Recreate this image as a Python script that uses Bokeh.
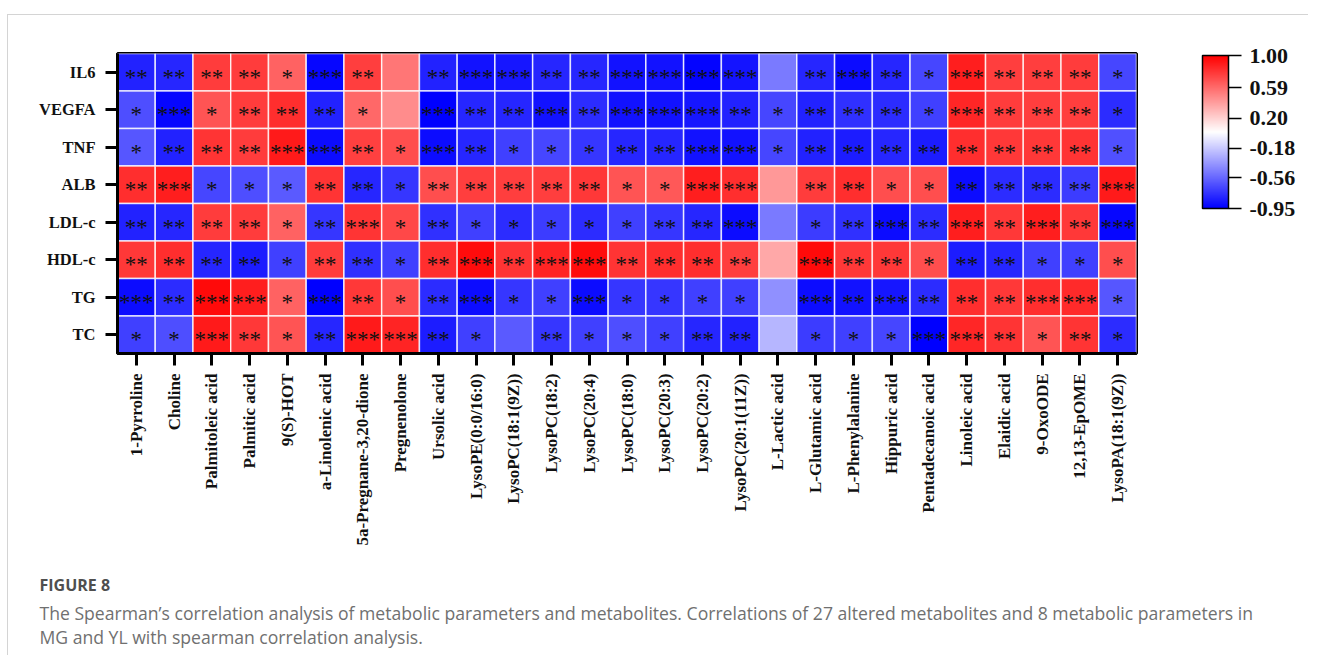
import numpy as np
from bokeh.plotting import figure
from bokeh.models import (ColumnDataSource, LinearColorMapper, ColorBar, FixedTicker,
                          PrintfTickFormatter, Title)
from bokeh.transform import transform
from bokeh.core.properties import value
from bokeh.embed import file_html
from bokeh.resources import INLINE

metabolites = ["1-Pyrroline", "Choline", "Palmitoleic acid", "Palmitic acid", "9(S)-HOT",
               "a-Linolenic acid", "5a-Pregnane-3,20-dione", "Pregnenolone", "Ursolic acid",
               "LysoPE(0:0/16:0)", "LysoPC(18:1(9Z))", "LysoPC(18:2)", "LysoPC(20:4)",
               "LysoPC(18:0)", "LysoPC(20:3)", "LysoPC(20:2)", "LysoPC(20:1(11Z))",
               "L-Lactic acid", "L-Glutamic acid", "L-Phenylalanine", "Hippuric acid",
               "Pentadecanoic acid", "Linoleic acid", "Elaidic acid", "9-OxoODE",
               "12,13-EpOME", "LysoPA(18:1(9Z))"]
parameters = ["IL6", "VEGFA", "TNF", "ALB", "LDL-c", "HDL-c", "TG", "TC"]

# Spearman correlation coefficients
il6 = [-0.82, -0.80, 0.77, 0.77, 0.62, -0.92, 0.76, 0.55, -0.82, -0.88, -0.86, -0.80, -0.80, -0.88,
       -0.88, -0.93, -0.87, -0.48, -0.80, -0.90, -0.80, -0.68, 0.88, 0.76, 0.76, 0.77, -0.68]
vegfa = [-0.65, -0.92, 0.68, 0.77, 0.82, -0.82, 0.60, 0.46, -0.95, -0.80, -0.80, -0.88, -0.78, -0.88,
         -0.88, -0.86, -0.82, -0.68, -0.82, -0.76, -0.78, -0.70, 0.85, 0.77, 0.76, 0.76, -0.78]
tnf = [-0.62, -0.82, 0.80, 0.77, 0.90, -0.90, 0.75, 0.70, -0.90, -0.80, -0.70, -0.68, -0.74, -0.80,
       -0.80, -0.88, -0.88, -0.68, -0.82, -0.84, -0.80, -0.84, 0.82, 0.78, 0.78, 0.80, -0.64]
alb = [0.82, 0.88, -0.68, -0.65, -0.60, 0.80, -0.80, -0.74, 0.70, 0.76, 0.76, 0.76, 0.78, 0.68,
       0.66, 0.88, 0.82, 0.42, 0.77, 0.82, 0.70, 0.70, -0.90, -0.78, -0.78, -0.72, 0.90]
ldl = [-0.82, -0.80, 0.77, 0.77, 0.62, -0.74, 0.80, 0.72, -0.76, -0.70, -0.78, -0.72, -0.78, -0.70,
       -0.74, -0.80, -0.90, -0.48, -0.72, -0.76, -0.90, -0.78, 0.88, 0.78, 0.88, 0.78, -0.92]
hdl = [0.78, 0.82, -0.80, -0.84, -0.70, 0.77, -0.76, -0.70, 0.82, 0.95, 0.80, 0.86, 0.95, 0.80,
       0.82, 0.82, 0.76, 0.36, 0.96, 0.78, 0.78, 0.70, -0.84, -0.80, -0.70, -0.70, 0.70]
tg = [-0.90, -0.78, 0.96, 0.88, 0.62, -0.95, 0.78, 0.70, -0.78, -0.90, -0.74, -0.70, -0.90, -0.74,
      -0.74, -0.70, -0.70, -0.40, -0.90, -0.88, -0.86, -0.78, 0.82, 0.78, 0.82, 0.84, -0.62]
tc = [-0.70, -0.65, 0.90, 0.78, 0.68, -0.80, 0.90, 0.86, -0.84, -0.70, -0.60, -0.74, -0.70, -0.65,
      -0.70, -0.80, -0.82, -0.25, -0.72, -0.70, -0.68, -0.95, 0.85, 0.80, 0.68, 0.80, -0.78]

# significance marks
il6_sig = ["**", "**", "**", "**", "*", "***", "**", "", "**", "***", "***", "**", "**", "***",
           "***", "***", "***", "", "**", "***", "**", "*", "***", "**", "**", "**", "*"]
vegfa_sig = ["*", "***", "*", "**", "**", "**", "*", "", "***", "**", "**", "***", "**", "***",
             "***", "***", "**", "*", "**", "**", "**", "*", "***", "**", "**", "**", "*"]
tnf_sig = ["*", "**", "**", "**", "***", "***", "**", "*", "***", "**", "*", "*", "*", "**",
           "**", "***", "***", "*", "**", "**", "**", "**", "**", "**", "**", "**", "*"]
alb_sig = ["**", "***", "*", "*", "*", "**", "**", "*", "**", "**", "**", "**", "**", "*",
           "*", "***", "***", "", "**", "**", "*", "*", "**", "**", "**", "**", "***"]
ldl_sig = ["**", "**", "**", "**", "*", "**", "***", "*", "**", "*", "*", "*", "*", "*",
           "**", "**", "***", "", "*", "**", "***", "**", "***", "**", "***", "**", "***"]
hdl_sig = ["**", "**", "**", "**", "*", "**", "**", "*", "**", "***", "**", "***", "***", "**",
           "**", "**", "**", "", "***", "**", "**", "*", "**", "**", "*", "*", "*"]
tg_sig = ["***", "**", "***", "***", "*", "***", "**", "*", "**", "***", "*", "*", "***", "*",
          "*", "*", "*", "", "***", "**", "***", "**", "**", "**", "***", "***", "*"]
tc_sig = ["*", "*", "***", "**", "*", "**", "***", "***", "**", "*", "", "**", "*", "*",
          "*", "**", "**", "", "*", "*", "*", "***", "***", "**", "*", "**", "*"]

cb_ticks = [-0.95, -0.56, -0.18, 0.20, 0.59, 1.00]

caption_head = "FIGURE 8"
caption_line1 = ("The Spearman\u2019s correlation analysis of metabolic parameters and metabolites. "
                 "Correlations of 27 altered metabolites and 8 metabolic parameters in")
caption_line2 = "MG and YL with spearman correlation analysis."

rows_vals = [il6, vegfa, tnf, alb, ldl, hdl, tg, tc]
rows_sig = [il6_sig, vegfa_sig, tnf_sig, alb_sig, ldl_sig, hdl_sig, tg_sig, tc_sig]

xs, ys, vals, sigs = [], [], [], []
for param, rv, rs in zip(parameters, rows_vals, rows_sig):
    for m, v, s in zip(metabolites, rv, rs):
        xs.append(m); ys.append(param); vals.append(v); sigs.append(s)
src = ColumnDataSource(dict(x=xs, y=ys, v=vals, s=sigs))

# blue -> white -> red palette
def _hex(r, g, b):
    return "#%02x%02x%02x" % (int(round(r)), int(round(g)), int(round(b)))
palette = []
n = 256
for i in range(n):
    t = i / (n - 1)
    if t < 0.5:
        k = t / 0.5
        palette.append(_hex(255 * k, 255 * k, 255))
    else:
        k = (t - 0.5) / 0.5
        palette.append(_hex(255, 255 * (1 - k), 255 * (1 - k)))
mapper = LinearColorMapper(palette=palette, low=-0.95, high=1.0)

p = figure(frame_width=1019, frame_height=300, x_range=metabolites,
           y_range=list(reversed(parameters)),
           output_backend="svg", toolbar_location=None,
           min_border_left=109, min_border_right=172, min_border_top=38, min_border_bottom=302,
           styles={"border-top": "1px solid #d4d4d4", "border-left": "1px solid #d4d4d4",
                   "margin-top": "14px", "margin-left": "7px"})
p.rect(x="x", y="y", width=1, height=1, source=src,
       fill_color=transform("v", mapper), line_color="white", line_alpha=0.8, line_width=1.5)
p.text(x="x", y="y", text="s", source=src, text_align="center", text_baseline="middle",
       y_offset=5, text_font=value("Liberation Serif"), text_font_size="23px",
       text_color="#111111")

p.grid.visible = False
p.outline_line_color = "black"
p.outline_line_width = 3
p.outline_line_alpha = 1

for ax in (p.xaxis[0], p.yaxis[0]):
    ax.axis_line_color = "black"
    ax.axis_line_width = 3
    ax.major_tick_line_color = "black"
    ax.major_tick_line_width = 3
    ax.major_tick_in = 0
    ax.major_tick_out = 12
    ax.minor_tick_line_color = None
    ax.major_label_text_font = "Liberation Serif"
    ax.major_label_text_font_style = "bold"
    ax.major_label_text_color = "#111111"
p.yaxis.major_label_text_font_size = "16.5px"
p.yaxis.major_label_standoff = 10
p.xaxis.major_label_text_font_size = "17px"
p.xaxis.major_label_orientation = np.pi / 2
p.xaxis.major_label_standoff = 8

cb = ColorBar(color_mapper=mapper, location=(1085, 145), width=26, height=153, padding=0,
              margin=0, ticker=FixedTicker(ticks=cb_ticks),
              formatter=PrintfTickFormatter(format="%.2f"),
              major_tick_in=0, major_tick_out=13, major_tick_line_color="black",
              major_tick_line_width=1.5, minor_tick_line_color=None,
              bar_line_color="black", bar_line_width=1.5, label_standoff=8,
              major_label_text_font="Liberation Serif", major_label_text_font_style="bold",
              major_label_text_font_size="22px", major_label_text_color="#111111",
              background_fill_alpha=0)
p.add_layout(cb, "center")

cap_font = "Open Sans"
# spacer between axis labels and caption
p.add_layout(Title(text=" ", standoff=18, text_font_size="1px"), "below")
p.add_layout(Title(text=caption_head, align="left", offset=-78, standoff=4,
                   text_font=cap_font, text_font_style="bold", text_font_size="16px",
                   text_color="#4f4f4f"), "below")
p.add_layout(Title(text=caption_line1 + "\n" + caption_line2, align="left", offset=-78,
                   standoff=2, text_font=cap_font, text_font_style="normal",
                   text_font_size="17.6px", text_line_height=1.0,
                   text_color="#707070"), "below")

open("out.html", "w").write(file_html(p, INLINE))
